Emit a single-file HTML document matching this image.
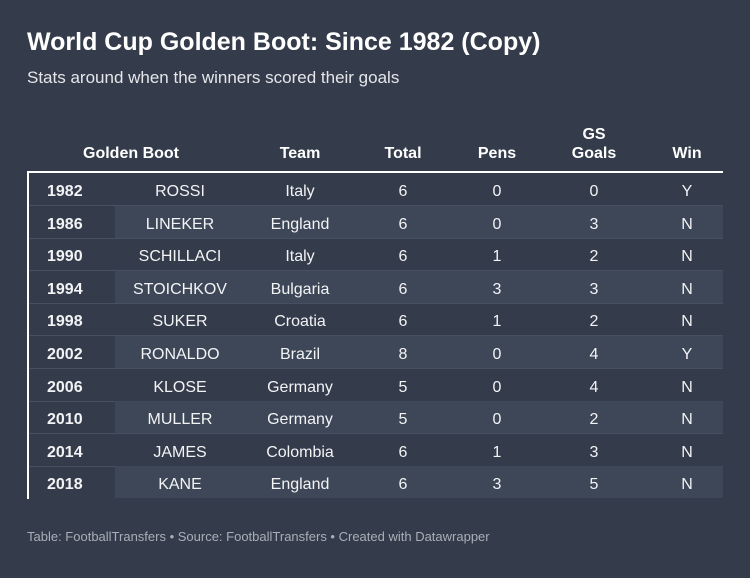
<!DOCTYPE html>
<html><head><meta charset="utf-8">
<style>
html,body{margin:0;padding:0;}
body{width:750px;height:578px;background:#343c4b;font-family:"Liberation Sans",sans-serif;color:#fff;position:relative;overflow:hidden;}
#title{position:absolute;left:27px;top:28px;font-size:25px;font-weight:bold;letter-spacing:0px;white-space:nowrap;}
#subtitle{position:absolute;left:27px;top:68px;font-size:17px;color:#e4e6ea;white-space:nowrap;}
.hdr{position:absolute;font-size:16px;font-weight:bold;text-align:center;transform:translateX(-50%);line-height:19px;white-space:nowrap;}
#table-top{position:absolute;left:27px;top:171px;width:696px;height:2px;background:#fff;}
#table-left{position:absolute;left:27px;top:171px;width:2px;height:328px;background:#fff;}
.row{position:absolute;left:29px;width:694px;height:32px;border-bottom:1px solid #465061;}
.shade{position:absolute;left:86px;top:0;right:0;bottom:0;background:#3e4757;}
.cell{position:absolute;top:3px;height:32px;line-height:32px;font-size:16px;transform:translateX(-50%);white-space:nowrap;color:#f2f3f5;}
.yr{font-weight:bold;transform:none;}
#footer{position:absolute;left:27px;top:529px;font-size:13px;color:#a9aeb7;white-space:nowrap;}
</style></head><body>
<div id="title">World Cup Golden Boot: Since 1982 (Copy)</div>
<div id="subtitle">Stats around when the winners scored their goals</div>
<div class="hdr" style="left:131px;top:144px">Golden Boot</div>
<div class="hdr" style="left:300px;top:144px">Team</div>
<div class="hdr" style="left:403px;top:144px">Total</div>
<div class="hdr" style="left:497px;top:144px">Pens</div>
<div class="hdr" style="left:594px;top:125px">GS<br>Goals</div>
<div class="hdr" style="left:687px;top:144px">Win</div>
<div id="table-top"></div>
<div id="rows"></div>
<div id="table-left"></div>
<div id="footer">Table: FootballTransfers • Source: FootballTransfers • Created with Datawrapper</div>
<script>
const years=["1982","1986","1990","1994","1998","2002","2006","2010","2014","2018"];
const players=["ROSSI","LINEKER","SCHILLACI","STOICHKOV","SUKER","RONALDO","KLOSE","MULLER","JAMES","KANE"];
const teams=["Italy","England","Italy","Bulgaria","Croatia","Brazil","Germany","Germany","Colombia","England"];
const totals=[6,6,6,6,6,8,5,5,6,6];
const pens=[0,0,1,3,1,0,0,0,1,3];
const gsGoals=[0,3,2,3,2,4,4,2,3,5];
const wins=["Y","N","N","N","N","Y","N","N","N","N"];
const container=document.getElementById('rows');
const rowTop=173, rowH=32.6;
const colX=[151,271,374,468,565,658];
for(let i=0;i<years.length;i++){
  const r=document.createElement('div');
  r.className='row';
  
  
  r.style.top=(rowTop+i*rowH)+'px';
  if(i%2===1){const s=document.createElement('div');s.className='shade';
    
    
    r.appendChild(s);}
  if(i===years.length-1) r.style.borderBottom='none';
  const y=document.createElement('div');
  y.className='cell yr';y.style.left='18px';y.textContent=years[i];
  
  
  r.appendChild(y);
  const vals=[players[i],teams[i],totals[i],pens[i],gsGoals[i],wins[i]];
  const names=['player-cell','team-cell','total-cell','pens-cell','gs-goals-cell','win-cell'];
  vals.forEach((v,j)=>{
    const c=document.createElement('div');
    c.className='cell';c.style.left=colX[j]+'px';c.textContent=v;
    
    
    r.appendChild(c);
  });
  container.appendChild(r);
}
</script>
</body></html>
